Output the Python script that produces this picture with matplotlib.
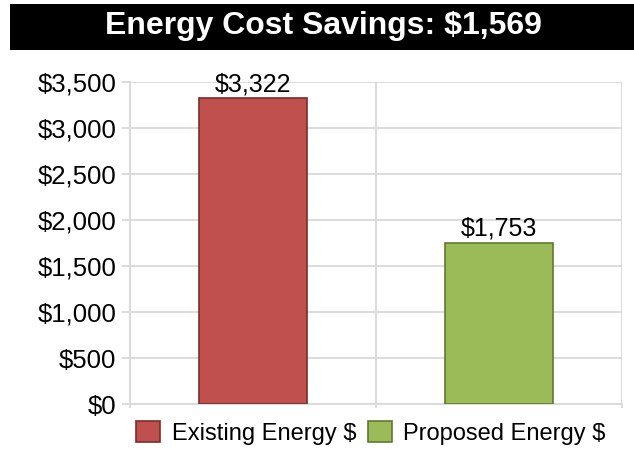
import matplotlib.pyplot as plt
from matplotlib.patches import Rectangle

plt.rcParams['font.family'] = ['Liberation Sans', 'DejaVu Sans']

categories = ['Existing Energy $', 'Proposed Energy $']
values = [3322, 1753]
colors = ['#c0504d', '#9bbb59']
edges = ['#7b2c2a', '#5f7a30']
yticks = [0, 500, 1000, 1500, 2000, 2500, 3000, 3500]
title = 'Energy Cost Savings: $1,569'

fig = plt.figure(figsize=(6.34, 4.49), dpi=100)
ax = fig.add_axes([130/634, 1-404/449, 492/634, 322/449])

# black title bar
fig.patches.append(Rectangle((10/634, 1-50/449), 1, 46/449, transform=fig.transFigure,
                             facecolor='black', edgecolor='none', zorder=0))
fig.text(323/634, 1-26/449, title, color='white', fontsize=23, fontweight='bold',
         ha='center', va='center')

bars = []
for i in range(len(values)):
    b = ax.bar(i, values[i], width=0.435, color=colors[i], edgecolor=edges[i],
               linewidth=1.2, label=categories[i], zorder=3)
    bars.append(b)
    ax.text(i, values[i] + 25, '${:,}'.format(values[i]), ha='center', va='bottom',
            fontsize=18, zorder=4)

ax.set_xlim(-0.5, 1.5)
ax.set_ylim(0, 3500)
ax.set_yticks(yticks)
ax.set_yticklabels(['${:,}'.format(v) for v in yticks], fontsize=18.5)
ax.set_xticks([-0.5, 0.5, 1.5])
ax.set_xticklabels([])
ax.grid(True, color='#d9d9d9', linewidth=1.3, zorder=0)
ax.tick_params(axis='y', length=6, color='#d9d9d9', width=1.3, pad=4)
ax.tick_params(axis='x', length=3, color='#d9d9d9', width=1.3)
for s in ['top', 'right']:
    ax.spines[s].set_visible(False)
for s in ['left', 'bottom']:
    ax.spines[s].set_color('#d9d9d9')
    ax.spines[s].set_linewidth(1.3)

fig.legend(handles=[b[0] for b in bars], labels=categories, loc='center',
           bbox_to_anchor=(371/634, 1-433/449), ncol=2, frameon=False, fontsize=17,
           handlelength=1.0, handleheight=1.0, handletextpad=0.5, columnspacing=0.5,
           borderaxespad=0)

fig.savefig('out.png', dpi=100)
